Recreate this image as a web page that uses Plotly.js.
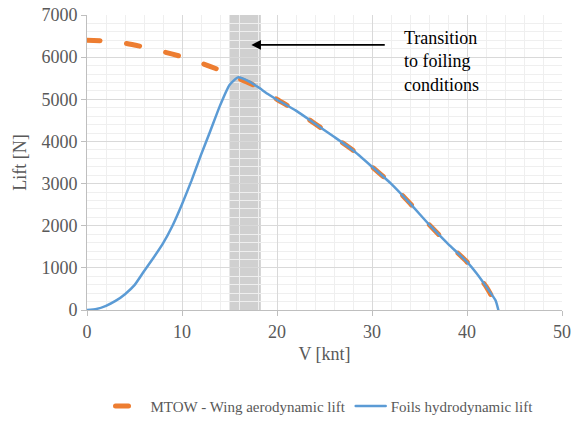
<!DOCTYPE html>
<html>
<head>
<meta charset="utf-8">
<script src="https://cdn.plot.ly/plotly-3.0.1.min.js"></script>
<style>
html,body{margin:0;padding:0;background:#fff;}
#chart{width:572px;height:421px;}
path.js-line{stroke-linecap:round;}
</style>
</head>
<body>
<div id="chart"></div>
<script>
// Foils hydrodynamic lift
const vFoil = [0, 1, 2, 3, 4, 5, 6, 7, 8, 9, 10, 11, 12, 13, 14, 15, 15.9, 17, 18, 19, 20, 22, 24, 26, 28, 30, 32, 34, 36, 38, 40, 41, 42, 43, 43.3];
const liftFoil = [0, 25, 100, 215, 375, 590, 920, 1240, 1580, 2000, 2510, 3070, 3680, 4260, 4850, 5340, 5520, 5430, 5290, 5130, 4990, 4730, 4420, 4110, 3790, 3400, 3000, 2530, 2030, 1570, 1140, 870, 560, 230, 0];
// MTOW - Wing aerodynamic lift
const vWing = [0, 2, 4, 6, 8, 10, 12, 14, 16, 18, 20, 22, 24, 26, 28, 30, 32, 34, 36, 38, 40, 42, 43.3];
const liftWing = [6400, 6385, 6330, 6240, 6130, 6010, 5860, 5690, 5490, 5290, 5000, 4730, 4420, 4110, 3790, 3400, 3000, 2530, 2030, 1570, 1140, 560, 40];
// Transition band
const bandStart = 15.0;
const bandEnd = 18.3;
const noteText = "Transition<br>to foiling<br>conditions";
const arrowFrom = [31.5, 6290];
const arrowTo = [17.3, 6290];

const serif = "Liberation Serif";
const grey = "#595959";

const traces = [
  {x: vWing, y: liftWing, type: "scatter", mode: "lines", name: "MTOW - Wing aerodynamic lift",
   line: {color: "#ED7D31", width: 5, dash: "13px,27px", shape: "spline", smoothing: 0.5}},
  {x: vFoil, y: liftFoil, type: "scatter", mode: "lines", name: "Foils hydrodynamic lift",
   line: {color: "#5B9BD5", width: 2.5, shape: "spline", smoothing: 0.5}}
];

const layout = {
  width: 572, height: 421,
  margin: {l: 87, r: 10, t: 15, b: 111, autoexpand: false},
  paper_bgcolor: "#fff", plot_bgcolor: "#fff",
  font: {family: serif, color: grey, size: 18},
  showlegend: true,
  legend: {orientation: "h", x: 0.5, xanchor: "center", xref: "paper", y: -0.27, yanchor: "top",
           font: {family: serif, size: 15, color: grey}, traceorder: "normal", itemwidth: 30},
  xaxis: {range: [0, 50], dtick: 10, tick0: 0, showline: true, linecolor: "#bfbfbf", linewidth: 1,
          ticks: "outside", ticklen: 5, tickcolor: "#bfbfbf", gridcolor: "#d9d9d9", gridwidth: 1,
          zeroline: false, tickfont: {family: serif, size: 18, color: grey},
          minor: {dtick: 2, showgrid: true, gridcolor: "#efefef", gridwidth: 1},
          title: {text: "V [knt]", font: {family: serif, size: 18, color: grey}, standoff: 6}},
  yaxis: {range: [0, 7000], dtick: 1000, tick0: 0, showline: true, linecolor: "#bfbfbf", linewidth: 1,
          ticks: "outside", ticklen: 5, tickcolor: "#bfbfbf", gridcolor: "#d9d9d9", gridwidth: 1,
          zeroline: false, tickfont: {family: serif, size: 18, color: grey},
          minor: {dtick: 200, showgrid: true, gridcolor: "#efefef", gridwidth: 1},
          title: {text: "Lift [N]", font: {family: serif, size: 18, color: grey}, standoff: 10}},
  shapes: [
    {type: "rect", xref: "x", yref: "paper", x0: bandStart, x1: bandEnd, y0: 0, y1: 1,
     fillcolor: "#d0d0d0", line: {width: 0}, layer: "between"}
  ],
  annotations: [
    {x: arrowTo[0], y: arrowTo[1], ax: arrowFrom[0], ay: arrowFrom[1], axref: "x", ayref: "y",
     xref: "x", yref: "y", text: "", showarrow: true, arrowhead: 2, arrowsize: 1.2, arrowwidth: 1.6,
     arrowcolor: "#000"},
    {x: 33.2, y: 6750, xref: "x", yref: "y", text: noteText, showarrow: false, xanchor: "left", yanchor: "top",
     align: "left", font: {family: serif, size: 18, color: "#000"}}
  ]
};

Plotly.newPlot("chart", traces, layout, {displayModeBar: false, staticPlot: true});
</script>
</body>
</html>
